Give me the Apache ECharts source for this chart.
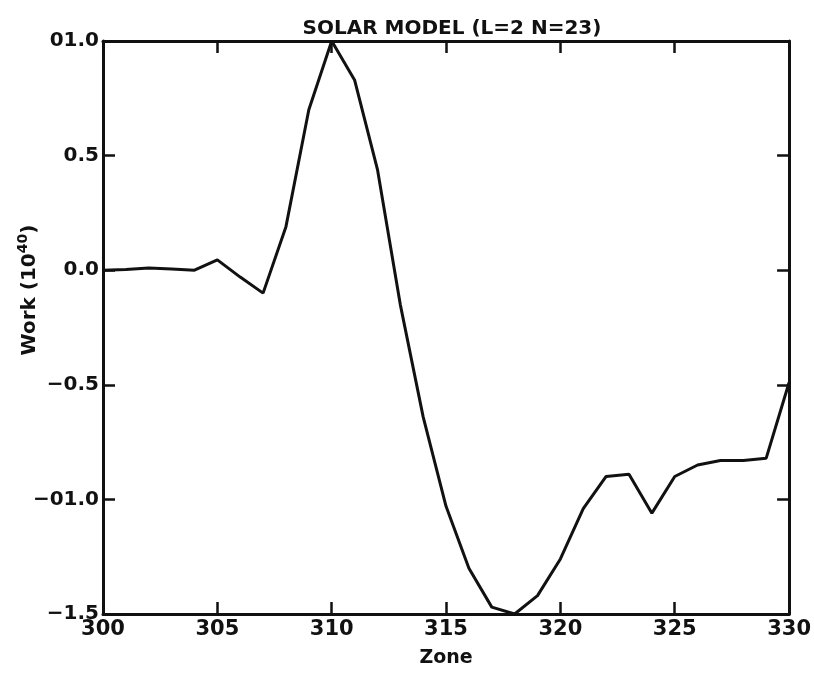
<!DOCTYPE html>
<html>
<head>
<meta charset="utf-8">
<script src="https://cdn.jsdelivr.net/npm/echarts@6/dist/echarts.min.js"></script>
<style>
  html, body { margin: 0; padding: 0; background: #fff; }
  #chart { width: 814px; height: 673px; }
</style>
</head>
<body>
<div id="chart"></div>
<script>
// Zone index along the model and work per zone (units of 10^40)
const zones = [300, 301, 302, 303, 304, 305, 306, 307, 308, 309, 310,
               311, 312, 313, 314, 315, 316, 317, 318, 319, 320,
               321, 322, 323, 324, 325, 326, 327, 328, 329, 330]
const work  = [0.0, 0.003, 0.01, 0.005, 0.0, 0.045, -0.03, -0.10, 0.19, 0.70, 1.0,
               0.83, 0.44, -0.15, -0.64, -1.03, -1.30, -1.47, -1.5, -1.42, -1.26,
               -1.04, -0.90, -0.89, -1.06, -0.90, -0.85, -0.83, -0.83, -0.82, -0.49]

// tick labels as printed on the original plot
const yTickValues = [1.0, 0.5, 0.0, -0.5, -1.0, -1.5]
const yTickLabels = ['01.0', '0.5', '0.0', '\u22120.5', '\u221201.0', '\u22121.5']

const chart = echarts.init(document.getElementById('chart'))

const ink = '#111'
const font = 'DejaVu Sans'

// shared frame axis: inward ticks, heavy line
function frameAxis(extra) {
  return Object.assign({
    type: 'value',
    axisLine: { show: true, onZero: false, lineStyle: { color: ink, width: 3 } },
    axisTick: { show: true, inside: true, length: 12, lineStyle: { color: ink, width: 2.5 } },
    splitLine: { show: false },
  }, extra)
}

chart.setOption({
  animation: false,
  backgroundColor: '#fff',
  title: {
    text: 'SOLAR MODEL (L=2 N=23)',
    left: 447, top: 14, textAlign: 'center',
    textStyle: { fontFamily: font, fontSize: 20, fontWeight: 'bold', color: ink },
  },
  grid: { left: 103, right: 22, top: 41, bottom: 58 },
  xAxis: [
    frameAxis({
      position: 'bottom', min: 300, max: 330, interval: 5,
      name: 'Zone', nameLocation: 'middle', nameGap: 35,
      nameTextStyle: { fontFamily: font, fontSize: 19, fontWeight: 'bold', color: ink },
      axisLabel: { fontFamily: font, fontSize: 21, fontWeight: 'bold', color: ink, margin: 5 },
    }),
    frameAxis({
      position: 'top', min: 300, max: 330, interval: 5,
      axisLabel: { show: false },
    }),
  ],
  yAxis: [
    frameAxis({
      position: 'left', min: -1.5, max: 1.0, interval: 0.5,
      axisLabel: {
        fontFamily: font, fontSize: 20, fontWeight: 'bold', color: ink, margin: 4,
        formatter: v => {
          const i = yTickValues.findIndex(t => Math.abs(t - v) < 1e-6)
          return i >= 0 ? yTickLabels[i] : ''
        },
      },
    }),
    frameAxis({
      position: 'right', min: -1.5, max: 1.0, interval: 0.5,
      axisLabel: { show: false },
    }),
  ],
  graphic: [{
    type: 'text',
    x: 28, y: 290,
    rotation: Math.PI / 2,
    style: {
      text: '{b|Work (10}{s|40}{b|)}',
      align: 'center', verticalAlign: 'middle',
      rich: {
        b: { fontFamily: font, fontSize: 20, fontWeight: 'bold', fill: ink, verticalAlign: 'bottom' },
        s: { fontFamily: font, fontSize: 14, fontWeight: 'bold', fill: ink, verticalAlign: 'top', padding: [0, 0, 10, 0] },
      },
    },
  }],
  series: [{
    type: 'line',
    data: zones.map((z, i) => [z, work[i]]),
    symbol: 'none',
    clip: false,
    lineStyle: { color: ink, width: 3 },
  }],
})
</script>
</body>
</html>
